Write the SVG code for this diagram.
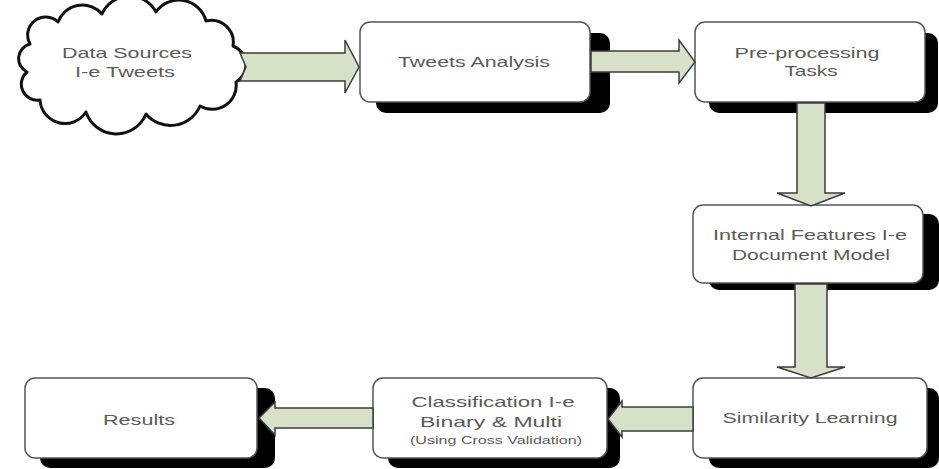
<svg xmlns="http://www.w3.org/2000/svg" width="939" height="469" viewBox="0 0 939 469">
<style>
.shadow{fill:#000}
.box{fill:#fff;stroke:#555;stroke-width:1.5}
.cloud{fill:#fff;stroke:#111;stroke-width:3;stroke-linejoin:round}
.arrow{fill:#d7e1c8;stroke:#3c3c3c;stroke-width:1.5;stroke-linejoin:miter}
.t{font-family:"Liberation Sans",Arial,sans-serif;font-size:15px;fill:#5a5a5a;text-anchor:middle}
.s{font-size:10px}
</style>
<rect width="939" height="469" fill="#fff"/>
<g id="data-sources">
<path class="cloud" d="M30,44 A18,18 0 0 1 58,22 A26,26 0 0 1 102,14 A30,30 0 0 1 156,12 A28,28 0 0 1 206,21 A22,22 0 0 1 233,46 A20,20 0 0 1 236,82 A24,24 0 0 1 200,106 A32,32 0 0 1 146,114 A32,32 0 0 1 86,112 A25,25 0 0 1 40,100 A16,16 0 0 1 27,72 A15,15 0 0 1 30,44 Z"/>
<text class="t" x="127" y="58" textLength="130" lengthAdjust="spacingAndGlyphs">Data Sources</text>
<text class="t" x="125" y="77" textLength="100" lengthAdjust="spacingAndGlyphs">I-e Tweets</text>
</g>
<g id="tweets-analysis">
<rect class="shadow" x="376" y="33" width="234" height="80" rx="10"/>
<rect class="box" x="360" y="22" width="230" height="80" rx="10"/>
<text class="t" x="474" y="67" textLength="152" lengthAdjust="spacingAndGlyphs">Tweets Analysis</text>
</g>
<g id="preprocessing">
<rect class="shadow" x="709" y="33" width="229" height="80" rx="10"/>
<rect class="box" x="695" y="22" width="230" height="80" rx="10"/>
<text class="t" x="807" y="58" textLength="145" lengthAdjust="spacingAndGlyphs">Pre-processing</text>
<text class="t" x="811" y="76" textLength="53" lengthAdjust="spacingAndGlyphs">Tasks</text>
</g>
<g id="internal-features">
<rect class="shadow" x="709" y="214" width="230" height="76" rx="10"/>
<rect class="box" x="693" y="205" width="230" height="78" rx="10"/>
<text class="t" x="810" y="240" textLength="194" lengthAdjust="spacingAndGlyphs">Internal Features I-e</text>
<text class="t" x="811" y="260" textLength="158" lengthAdjust="spacingAndGlyphs">Document Model</text>
</g>
<g id="similarity-learning">
<rect class="shadow" x="709" y="388" width="230" height="80" rx="10"/>
<rect class="box" x="693" y="378" width="234" height="80" rx="10"/>
<text class="t" x="810" y="423" textLength="175" lengthAdjust="spacingAndGlyphs">Similarity Learning</text>
</g>
<g id="classification">
<rect class="shadow" x="388" y="388" width="232" height="80" rx="10"/>
<rect class="box" x="373" y="378" width="234" height="80" rx="10"/>
<text class="t" x="493" y="407" textLength="163" lengthAdjust="spacingAndGlyphs">Classification I-e</text>
<text class="t" x="491" y="427" textLength="142" lengthAdjust="spacingAndGlyphs">Binary &amp; Multi</text>
<text class="t s" x="496" y="444" textLength="172" lengthAdjust="spacingAndGlyphs">(Using Cross Validation)</text>
</g>
<g id="results">
<rect class="shadow" x="40" y="388" width="235" height="80" rx="10"/>
<rect class="box" x="25" y="378" width="232" height="80" rx="10"/>
<text class="t" x="139" y="425" textLength="72" lengthAdjust="spacingAndGlyphs">Results</text>
</g>
<g id="connectors">
<polygon class="arrow" points="240,53 345,53 345,40 359,67 345,93 345,81 240,81 246,67"/>
<polygon class="arrow" points="591,51 679,51 679,40 695,62 679,83 679,72 591,72"/>
<polygon class="arrow" points="797,103 825,103 825,193 845,193 811,206 777,193 797,193"/>
<polygon class="arrow" points="795,284 827,284 827,367 845,367 811,378 777,367 795,367"/>
<polygon class="arrow" points="693,407 622,407 622,401 608,419 622,437 622,431 693,431"/>
<polygon class="arrow" points="373,408 275,408 275,402 259,418 275,435 275,428 373,428"/>
</g>
</svg>
